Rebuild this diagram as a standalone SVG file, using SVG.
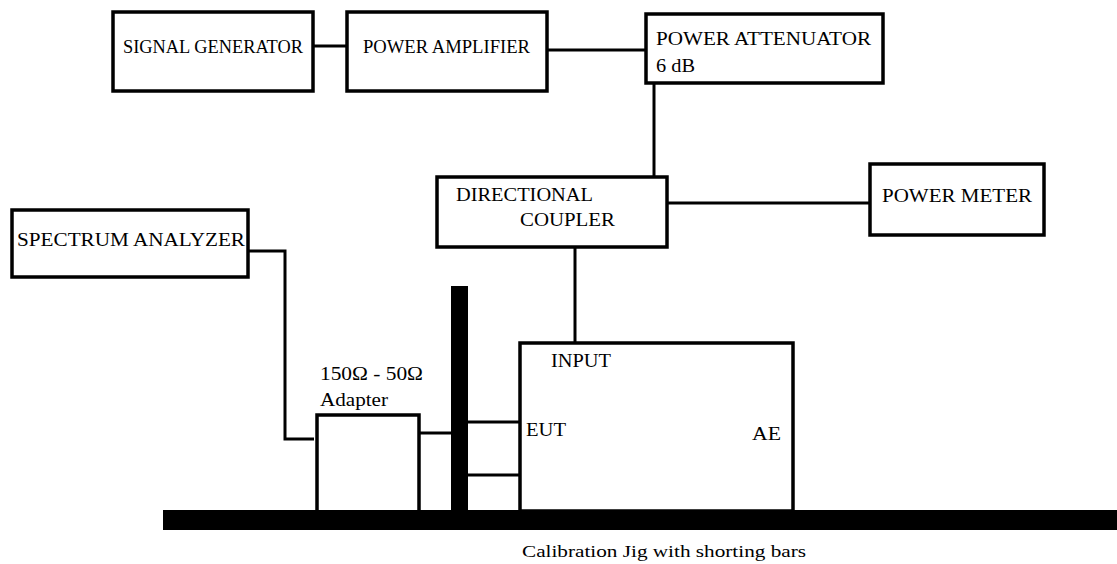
<svg xmlns="http://www.w3.org/2000/svg" width="1117" height="564" viewBox="0 0 1117 564">
<style>
.box{fill:#fff;stroke:#000;stroke-width:3.5}
.ln{fill:none;stroke:#000;stroke-width:3}
text{font-family:'Liberation Serif','Times New Roman',serif;font-size:19px;fill:#000}
.s{font-size:17px}
</style>
<rect x="0" y="0" width="1117" height="564" fill="#fff"/>
<g id="connectors">
<line class="ln" x1="313" y1="46" x2="347" y2="46"/>
<line class="ln" x1="547" y1="50" x2="646" y2="50"/>
<line class="ln" x1="654" y1="83" x2="654" y2="177"/>
<line class="ln" x1="667" y1="203" x2="870" y2="203"/>
<line class="ln" x1="575" y1="247" x2="575" y2="343"/>
<polyline class="ln" points="248,251 285,251 285,439 314,439"/>
<line class="ln" x1="419" y1="433" x2="451" y2="433"/>
<line class="ln" x1="468" y1="422" x2="520" y2="422"/>
<line class="ln" x1="468" y1="475" x2="520" y2="475"/>
</g>
<g id="signal-generator">
<rect class="box" x="113" y="12" width="200" height="79"/>
<text x="123" y="53" textLength="180" lengthAdjust="spacingAndGlyphs">SIGNAL GENERATOR</text>
</g>
<g id="power-amplifier">
<rect class="box" x="347" y="12" width="200" height="79"/>
<text x="363" y="53" textLength="167" lengthAdjust="spacingAndGlyphs">POWER AMPLIFIER</text>
</g>
<g id="power-attenuator">
<rect class="box" x="646" y="14" width="237" height="69"/>
<text x="656" y="45" textLength="215" lengthAdjust="spacingAndGlyphs">POWER ATTENUATOR</text>
<text x="656" y="72" textLength="39" lengthAdjust="spacingAndGlyphs">6 dB</text>
</g>
<g id="directional-coupler">
<rect class="box" x="437" y="177" width="230" height="70"/>
<text x="456" y="201" textLength="137" lengthAdjust="spacingAndGlyphs">DIRECTIONAL</text>
<text x="520" y="226" textLength="95" lengthAdjust="spacingAndGlyphs">COUPLER</text>
</g>
<g id="power-meter">
<rect class="box" x="870" y="164" width="174" height="71"/>
<text x="882" y="202" textLength="150" lengthAdjust="spacingAndGlyphs">POWER METER</text>
</g>
<g id="spectrum-analyzer">
<rect class="box" x="12" y="210" width="236" height="67"/>
<text x="17" y="246" textLength="228" lengthAdjust="spacingAndGlyphs">SPECTRUM ANALYZER</text>
</g>
<g id="adapter">
<polyline class="box" points="317,511 317,415 419,415 419,511"/>
<text x="320" y="380" textLength="103" lengthAdjust="spacingAndGlyphs">150Ω - 50Ω</text>
<text x="320" y="406" textLength="68" lengthAdjust="spacingAndGlyphs">Adapter</text>
</g>
<g id="shorting-bar">
<rect x="451" y="286" width="17" height="226" fill="#000"/>
</g>
<g id="eut">
<rect class="box" x="520" y="343" width="273" height="168"/>
<text x="551" y="367" textLength="60" lengthAdjust="spacingAndGlyphs">INPUT</text>
<text x="526" y="436" textLength="40" lengthAdjust="spacingAndGlyphs">EUT</text>
<text x="752" y="440" textLength="29" lengthAdjust="spacingAndGlyphs">AE</text>
</g>
<g id="calibration-jig">
<rect x="163" y="510" width="954" height="20" fill="#000"/>
<text class="s" x="522" y="557" textLength="284" lengthAdjust="spacingAndGlyphs">Calibration Jig with shorting bars</text>
</g>
</svg>
